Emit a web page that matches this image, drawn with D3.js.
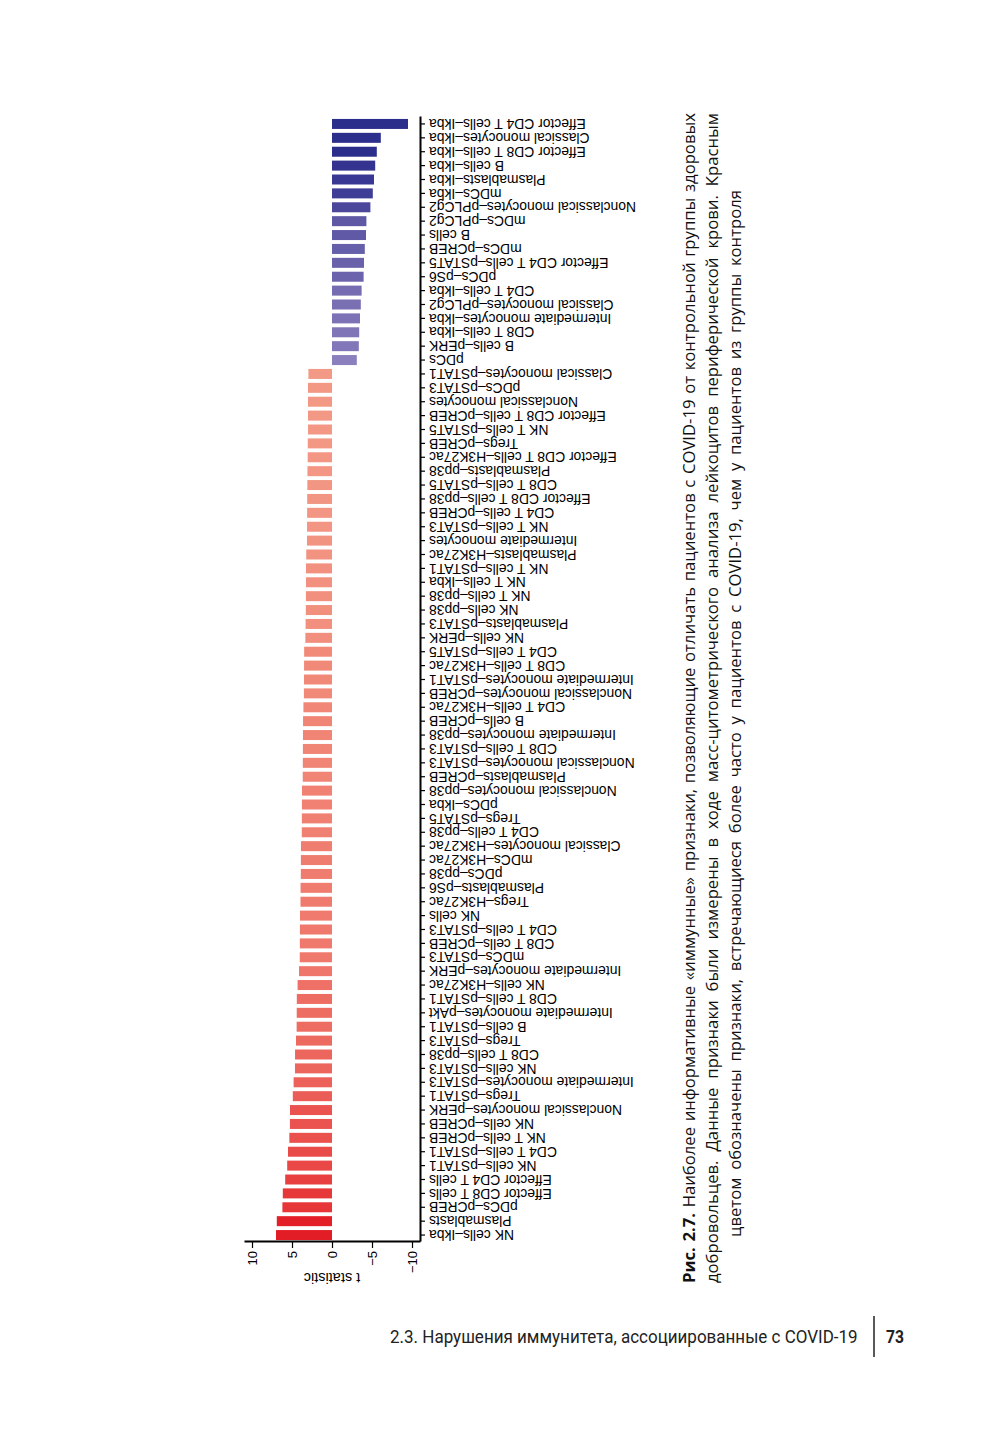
<!DOCTYPE html>
<html>
<head>
<meta charset="utf-8">
<script src="https://cdn.jsdelivr.net/npm/d3@7"></script>
<style>
  body { margin: 0; background: #fff; }
  svg { display: block; }
  .axis text { font-family: "Liberation Sans", Arial, sans-serif; fill: #000; }
  .axis path, .axis line { stroke: #000; }
</style>
</head>
<body>
<svg></svg>
<script>
// features, from left to right of the (unrotated) chart
const features = [
  "NK cells–Ikba", "Plasmablasts", "pDCs–pCREB", "Effector CD8 T cells", "Effector CD4 T cells",
  "NK cells–pSTAT1", "CD4 T cells–pSTAT1", "NK T cells–pCREB", "NK cells–pCREB", "Nonclassical monocytes–pERK",
  "Tregs–pSTAT1", "Intermediate monocytes–pSTAT3", "NK cells–pSTAT3", "CD8 T cells–pp38", "Tregs–pSTAT3",
  "B cells–pSTAT1", "Intermediate monocytes–pAkt", "CD8 T cells–pSTAT1", "NK cells–H3K27ac", "Intermediate monocytes–pERK",
  "mDCs–pSTAT3", "CD8 T cells–pCREB", "CD4 T cells–pSTAT3", "NK cells", "Tregs–H3K27ac",
  "Plasmablasts–pS6", "pDCs–pp38", "mDCs–H3K27ac", "Classical monocytes–H3K27ac", "CD4 T cells–pp38",
  "Tregs–pSTAT5", "pDCs–Ikba", "Nonclassical monocytes–pp38", "Plasmablasts–pCREB", "Nonclassical monocytes–pSTAT3",
  "CD8 T cells–pSTAT3", "Intermediate monocytes–pp38", "B cells–pCREB", "CD4 T cells–H3K27ac", "Nonclassical monocytes–pCREB",
  "Intermediate monocytes–pSTAT1", "CD8 T cells–H3K27ac", "CD4 T cells–pSTAT5", "NK cells–pERK", "Plasmablasts–pSTAT3",
  "NK cells–pp38", "NK T cells–pp38", "NK T cells–Ikba", "NK T cells–pSTAT1", "Plasmablasts–H3K27ac",
  "Intermediate monocytes", "NK T cells–pSTAT3", "CD4 T cells–pCREB", "Effector CD8 T cells–pp38", "CD8 T cells–pSTAT5",
  "Plasmablasts–pp38", "Effector CD8 T cells–H3K27ac", "Tregs–pCREB", "NK T cells–pSTAT5", "Effector CD8 T cells–pCREB",
  "Nonclassical monocytes", "pDCs–pSTAT3", "Classical monocytes–pSTAT1", "pDCs", "B cells–pERK",
  "CD8 T cells–Ikba", "Intermediate monocytes–Ikba", "Classical monocytes–pPLCg2", "CD4 T cells–Ikba", "pDCs–pS6",
  "Effector CD4 T cells–pSTAT5", "mDCs–pCREB", "B cells", "mDCs–pPLCg2", "Nonclassical monocytes–pPLCg2",
  "mDCs–Ikba", "Plasmablasts–Ikba", "B cells–Ikba", "Effector CD8 T cells–Ikba", "Classical monocytes–Ikba",
  "Effector CD4 T cells–Ikba"
];

const tValues = [
  7.0, 6.9, 6.2, 6.15, 5.85,
  5.6, 5.5, 5.33, 5.26, 5.25,
  4.9, 4.8, 4.63, 4.62, 4.5,
  4.42, 4.41, 4.4, 4.3, 4.12,
  4.03, 4.02, 4.01, 4.0, 3.94,
  3.93, 3.9, 3.89, 3.88, 3.78,
  3.77, 3.76, 3.75, 3.66, 3.65,
  3.64, 3.63, 3.62, 3.57, 3.51,
  3.5, 3.49, 3.48, 3.33, 3.3,
  3.27, 3.26, 3.25, 3.25, 3.22,
  3.13, 3.12, 3.11, 3.1, 3.08,
  3.07, 3.04, 3.03, 3.0, 3.0,
  3.0, 3.0, 2.95, -3.1, -3.35,
  -3.4, -3.5, -3.6, -3.7, -3.95,
  -4.0, -4.1, -4.25, -4.3, -4.8,
  -5.1, -5.25, -5.4, -5.6, -6.1,
  -9.5
];

const tTicks = [-10, -5, 0, 5, 10];
const axisTitle = "t statistic";

const captionBold = "Рис. 2.7.";
const captionLines = [
  " Наиболее информативные «иммунные» признаки, позволяющие отличать пациентов с COVID-19 от контрольной группы здоровых",
  "добровольцев. Данные признаки были измерены в ходе масс-цитометрического анализа лейкоцитов периферической крови. Красным",
  "цветом обозначены признаки, встречающиеся более часто у пациентов с COVID-19, чем у пациентов из группы контроля"
];
const footerText = "2.3. Нарушения иммунитета, ассоциированные с COVID-19";
const pageNumber = "73";

const w = 1000;
const h = 1455;

const svg = d3.select('svg')
  .attr('width', w)
  .attr('height', h)

// the chart is printed turned a quarter turn on the page
const chart = svg.append('g')
  .attr('transform', 'translate(0,1242) rotate(-90)')

const xScale = d3.scaleBand()
  .domain(d3.range(features.length))
  .range([0, 1125])
  .paddingInner(0.28)
  .paddingOuter(0.14)

const yScale = d3.scaleLinear()
  .domain([-11, 11])
  .range([420, 244])

const blueScale = d3.scaleLinear()
  .domain([-5.6, -3.1])
  .range(['#2c2e8c', '#8c7fbd'])
  .clamp(true)

const redScale = d3.scaleLinear()
  .domain([2.95, 7])
  .range(['#f39a86', '#e31d25'])
  .clamp(true)

// Draw Bars
chart.selectAll('rect')
  .data(tValues)
  .enter()
  .append('rect')
  .attr('x', (d, i) => xScale(i))
  .attr('width', xScale.bandwidth())
  .attr('y', d => yScale(Math.max(d, 0)))
  .attr('height', d => Math.abs(yScale(d) - yScale(0)))
  .attr('fill', d => d < 0 ? blueScale(d) : redScale(d))

// Draw Axes
const xAxis = d3.axisBottom(xScale)
  .tickSize(5)
  .tickSizeOuter(0)
  .tickFormat(i => features[i])

const gx = chart.append('g')
  .attr('class', 'axis')
  .attr('transform', 'translate(0,420)')
  .call(xAxis)

gx.select('.domain').attr('stroke-width', 2)
gx.selectAll('.tick line').attr('stroke-width', 1.2)
gx.selectAll('text')
  .attr('font-size', 13.9)
  .attr('x', -9)
  .attr('y', 0)
  .attr('dy', '0.35em')
  .attr('transform', 'rotate(-90)')
  .style('text-anchor', 'end')

const yAxis = d3.axisLeft(yScale)
  .tickValues(tTicks)
  .tickSize(6)
  .tickSizeOuter(0)

const gy = chart.append('g')
  .attr('class', 'axis')
  .call(yAxis)

gy.select('.domain').attr('stroke-width', 2)
gy.selectAll('.tick line').attr('stroke-width', 1.2)
gy.selectAll('text').attr('font-size', 13)

chart.append('text')
  .attr('transform', 'translate(-31,' + yScale(0) + ') rotate(-90)')
  .attr('text-anchor', 'middle')
  .attr('font-family', '"Liberation Sans", Arial, sans-serif')
  .attr('font-size', 14.5)
  .text(axisTitle)

// Caption, also turned
const capX = [695, 718, 741];
const capStart = [1283, 1283, 1237];
const capLen = [1170, 1170, 1047];

const capTexts = captionLines.map((line, i) => {
  const t = svg.append('text')
    .attr('transform', 'translate(' + capX[i] + ',' + capStart[i] + ') rotate(-90)')
    .attr('font-family', '"Open Sans", sans-serif')
    .attr('font-size', 16)
    .attr('fill', '#111')
  if (i === 0) {
    t.append('tspan').attr('font-weight', 'bold').text(captionBold)
  }
  t.append('tspan').text(line)
  return t
})

// one font size for the whole caption, fitted on its first line
const capSize = 16 * capLen[0] / capTexts[0].node().getComputedTextLength() * 0.985
capTexts.forEach((t, i) => {
  t.attr('font-size', capSize)
  const natural = t.node().getComputedTextLength()
  const text = (i === 0 ? captionBold : '') + captionLines[i]
  const spaces = (text.match(/ /g) || []).length
  t.attr('word-spacing', (capLen[i] - natural) / spaces)
})

// Footer
const foot = svg.append('text')
  .attr('font-family', 'Roboto, sans-serif')
  .attr('font-size', 19)
  .attr('fill', '#222')
  .text(footerText)
const footW = foot.node().getComputedTextLength()
foot.attr('transform', 'translate(390,1343) scale(' + (468 / footW) + ',1)')

svg.append('line')
  .attr('x1', 874).attr('x2', 874)
  .attr('y1', 1316).attr('y2', 1357)
  .attr('stroke', '#222')
  .attr('stroke-width', 1.5)

const num = svg.append('text')
  .attr('font-family', 'Roboto, sans-serif')
  .attr('font-weight', 'bold')
  .attr('font-size', 19)
  .attr('fill', '#222')
  .text(pageNumber)
const numW = num.node().getComputedTextLength()
num.attr('transform', 'translate(886,1343) scale(' + (18 / numW) + ',1)')
</script>
</body>
</html>
